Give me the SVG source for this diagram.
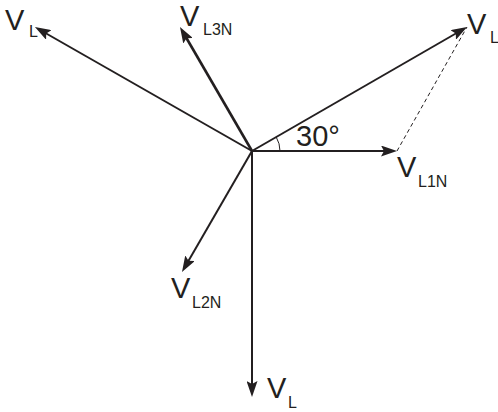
<svg xmlns="http://www.w3.org/2000/svg" width="498" height="412" viewBox="0 0 498 412">
<defs>
<marker id="ah" viewBox="0 0 16 11" markerWidth="16" markerHeight="11" refX="9" refY="5.5" orient="auto" markerUnits="userSpaceOnUse">
<path d="M0,0 L16,5.5 L0,11 L3,5.5 z" fill="#231f20"/>
</marker>
</defs>
<style>
.vec{stroke:#231f20;stroke-width:2;fill:none;marker-end:url(#ah)}
.thick{stroke-width:2.6}
.v{font-family:"Liberation Sans",Arial,sans-serif;font-size:29px;fill:#231f20}
.s{font-family:"Liberation Sans",Arial,sans-serif;font-size:16px;fill:#231f20}
</style>
<rect width="498" height="412" fill="#ffffff"/>
<g id="connectors">
<line class="vec" x1="252" y1="151" x2="41" y2="30.5"/>
<line class="vec thick" x1="252" y1="151" x2="183.5" y2="33"/>
<line class="vec" x1="252" y1="151" x2="461" y2="30.5"/>
<line class="vec" x1="252" y1="151" x2="390" y2="151"/>
<line class="vec" x1="252" y1="151" x2="185.5" y2="266"/>
<line class="vec" x1="252" y1="151" x2="252" y2="390"/>
<line x1="397" y1="151" x2="467" y2="27" stroke="#231f20" stroke-width="1" stroke-dasharray="4,3"/>
<path d="M280,151 A28,28 0 0 0 276.2,137" stroke="#231f20" stroke-width="1" fill="none"/>
</g>
<g id="label-VL-topleft"><text class="v" x="5" y="30">V</text><text class="s" x="29" y="37">L</text></g>
<g id="label-VL3N"><text class="v" x="180" y="26">V</text><text class="s" x="203" y="35">L3N</text></g>
<g id="label-VL-topright"><text class="v" x="467" y="34">V</text><text class="s" x="490" y="43">L</text></g>
<g id="label-30"><text class="v" x="296" y="146">30°</text></g>
<g id="label-VL1N"><text class="v" x="397" y="177">V</text><text class="s" x="418" y="187">L1N</text></g>
<g id="label-VL2N"><text class="v" x="171" y="298">V</text><text class="s" x="192" y="308">L2N</text></g>
<g id="label-VL-bottom"><text class="v" x="267" y="398">V</text><text class="s" x="288" y="408">L</text></g>
</svg>
